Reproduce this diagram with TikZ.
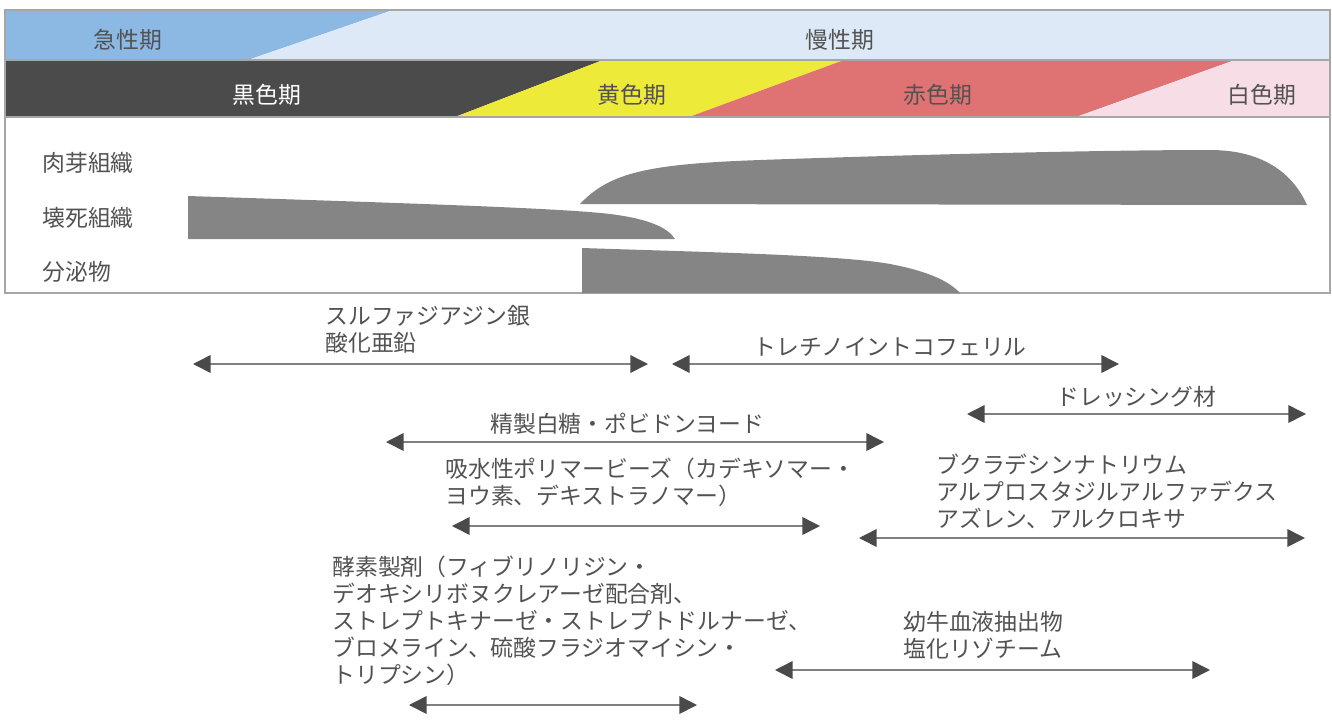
\documentclass[tikz,border=0pt]{standalone}
\usepackage{fontspec}
\newfontfamily\jpfont{Noto Sans CJK JP}
\usepackage{tikz}
\usetikzlibrary{arrows.meta}
\definecolor{acuteblue}{HTML}{8CB9E4}
\definecolor{chronicblue}{HTML}{DDE9F6}
\definecolor{blackphase}{HTML}{4B4B4B}
\definecolor{yellowphase}{HTML}{EEEA3A}
\definecolor{redphase}{HTML}{DF7272}
\definecolor{whitephase}{HTML}{F6DDE6}
\definecolor{tissuegray}{HTML}{858585}
\definecolor{textgray}{HTML}{525252}
\definecolor{arrowgray}{HTML}{4A4A4A}
\definecolor{linegray}{HTML}{808080}
\tikzset{every node/.style={ % Sets the properties for each text
font=\jpfont\fontsize{13}{15.3}\selectfont,
text=textgray, inner sep=0pt},
phase/.style={anchor=center}, % Labels of the coloured bands
rowlabel/.style={anchor=west}, % Labels of the tissue rows
druglabel/.style={anchor=north west, align=left}, % Names of the drugs
drugspan/.style={ % Double arrow of a drug
{Triangle[length=10pt,width=10pt,color=arrowgray]}-{Triangle[length=10pt,width=10pt,color=arrowgray]},
draw=linegray, line width=0.9pt},
tissue/.style={fill=tissuegray}, % Grey shapes
frame/.style={draw=gray!70, line width=0.6pt}}

\begin{document}
\begin{tikzpicture}[x=0.02cm, y=-0.02cm]
    \useasboundingbox (0,0) rectangle (1332,724);

    % bands
    \fill[acuteblue] (5,10) -- (393,10) -- (248,60) -- (5,60) -- cycle;
    \fill[chronicblue] (393,10) -- (1330,10) -- (1330,60) -- (248,60) -- cycle;
    \fill[blackphase] (5,60) -- (603,60) -- (455,117) -- (5,117) -- cycle;
    \fill[yellowphase] (603,60) -- (844,60) -- (689,117) -- (455,117) -- cycle;
    \fill[redphase] (844,60) -- (1235,60) -- (1076,117) -- (689,117) -- cycle;
    \fill[whitephase] (1235,60) -- (1330,60) -- (1330,117) -- (1076,117) -- cycle;
    \draw[frame] (5,10) rectangle (1330,293);
    \draw[frame] (5,60) -- (1330,60);
    \draw[frame] (5,117) -- (1330,117);

    \node[phase] (acute) at (128,40) {急性期};
    \node[phase] (chronic) at (840,40) {慢性期};
    \node[phase, text=white] (black) at (267,95) {黒色期};
    \node[phase] (yellow) at (632,95) {黄色期};
    \node[phase] (red) at (938,95) {赤色期};
    \node[phase] (white) at (1262,95) {白色期};

    % tissues
    \node[rowlabel] (granu) at (42,163) {肉芽組織};
    \node[rowlabel] (necro) at (42,218) {壊死組織};
    \node[rowlabel] (exud) at (42,272) {分泌物};

    \fill[tissue] (580,204) .. controls (610,172) and (650,164) .. (760,160)
        .. controls (900,155) and (1100,150) .. (1210,150)
        .. controls (1268,150) and (1295,178) .. (1307,205) -- cycle;
    \fill[tissue] (188,196) .. controls (400,203) and (560,208) .. (610,214)
        .. controls (650,219) and (668,228) .. (675,239) -- (188,239) -- cycle;
    \fill[tissue] (582,248) .. controls (700,252) and (850,255) .. (895,265)
        .. controls (930,272) and (950,282) .. (960,293) -- (582,293) -- cycle;

    % drugs
    \node[druglabel] (sulfa) at (325,305) {スルファジアジン銀\\酸化亜鉛};
    \node[rowlabel] (treti) at (753,347) {トレチノイントコフェリル};
    \node[rowlabel] (dress) at (1056,397) {ドレッシング材};
    \node[rowlabel] (sugar) at (490,424) {精製白糖・ポビドンヨード};
    \node[druglabel] (beads) at (445,458) {吸水性ポリマービーズ（カデキソマー・\\ヨウ素、デキストラノマー）};
    \node[druglabel] (bucla) at (936,454) {ブクラデシンナトリウム\\アルプロスタジルアルファデクス\\アズレン、アルクロキサ};
    \node[druglabel] (enzym) at (332,556) {酵素製剤（フィブリノリジン・\\デオキシリボヌクレアーゼ配合剤、\\ストレプトキナーゼ・ストレプトドルナーゼ、\\ブロメライン、硫酸フラジオマイシン・\\トリプシン）};
    \node[druglabel] (calf) at (903,611) {幼牛血液抽出物\\塩化リゾチーム};

    \coordinate (sulfaL) at (193,364);  \coordinate (sulfaR) at (648,364);
    \coordinate (tretiL) at (672,364);  \coordinate (tretiR) at (1119,364);
    \coordinate (dressL) at (967,414);  \coordinate (dressR) at (1306,414);
    \coordinate (sugarL) at (386,442);  \coordinate (sugarR) at (884,442);
    \coordinate (beadsL) at (452,526);  \coordinate (beadsR) at (820,526);
    \coordinate (buclaL) at (859,538);  \coordinate (buclaR) at (1305,538);
    \coordinate (enzymL) at (409,705);  \coordinate (enzymR) at (697,705);
    \coordinate (calfL) at (775,670);   \coordinate (calfR) at (1210,670);

    \draw[drugspan] (sulfaL) -- (sulfaR);
    \draw[drugspan] (tretiL) -- (tretiR);
    \draw[drugspan] (dressL) -- (dressR);
    \draw[drugspan] (sugarL) -- (sugarR);
    \draw[drugspan] (beadsL) -- (beadsR);
    \draw[drugspan] (buclaL) -- (buclaR);
    \draw[drugspan] (enzymL) -- (enzymR);
    \draw[drugspan] (calfL) -- (calfR);

\end{tikzpicture}
\end{document}
